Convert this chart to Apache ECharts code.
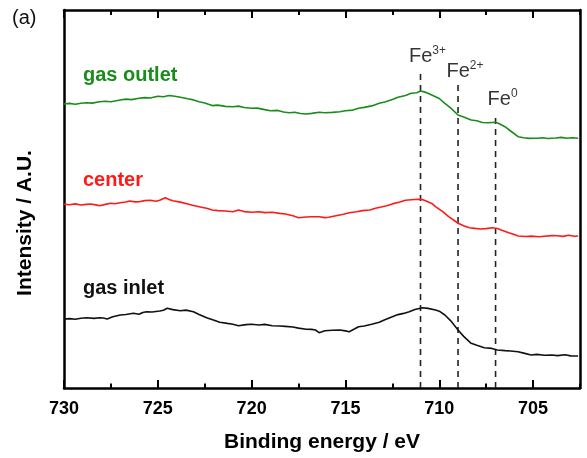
<!DOCTYPE html>
<html lang="en">
<head>
    <meta charset="UTF-8">
    <title>Fe 2p XPS</title>
    <script src="https://cdn.jsdelivr.net/npm/echarts@6/dist/echarts.min.js"></script>
    <style>
        html, body { margin: 0; padding: 0; background: #fff; }
        #chart { width: 587px; height: 458px; }
    </style>
</head>
<body>
    <div id="chart"></div>
    <script type="text/javascript">
        // binding energy (eV) and intensity (a.u., offset per curve)
        var outletEnergy = [730.0,729.7,729.4,729.1,728.8,728.5,728.1,727.8,727.5,727.0,726.7,726.4,726.0,725.7,725.4,725.0,724.7,724.4,724.1,723.8,723.4,723.1,722.8,722.5,722.1,721.8,721.4,721.0,720.7,720.4,720.0,719.7,719.3,719.0,718.6,718.3,718.0,717.7,717.4,717.1,716.8,716.4,716.1,715.7,715.3,715.0,714.6,714.3,714.0,713.6,713.2,712.9,712.5,712.2,711.8,711.5,711.2,711.0,710.7,710.4,710.0,709.7,709.4,709.0,708.7,708.3,708.0,707.7,707.4,707.0,706.8,706.5,706.2,705.8,705.5,705.2,704.8,704.5,704.2,703.8,703.5,703.2,702.9,702.6];
        var outletIntensity = [284.0,284.6,283.8,284.7,285.3,284.9,286.2,286.8,286.3,288.0,288.9,288.4,289.7,290.4,290.0,291.8,291.2,292.5,291.7,290.7,289.2,288.1,286.3,285.0,282.4,282.9,281.6,281.3,281.9,280.5,279.7,279.9,278.4,277.3,277.6,276.0,275.3,275.8,274.5,274.0,274.6,275.7,275.2,275.6,276.3,277.2,277.9,279.7,280.6,282.1,284.7,286.0,288.4,290.7,292.5,294.7,295.3,297.0,295.6,293.0,289.5,284.7,280.2,273.0,270.9,268.0,267.2,265.5,265.2,265.7,264.3,261.3,257.0,251.3,250.2,249.6,249.7,250.3,249.5,250.0,250.6,249.8,250.2,249.7];

        var centerEnergy = [730.0,729.7,729.4,729.1,728.8,728.6,728.3,728.1,727.8,727.5,727.3,727.0,726.7,726.5,726.2,726.0,725.7,725.4,725.1,724.9,724.6,724.4,724.2,723.8,723.4,723.1,722.8,722.4,722.1,721.8,721.4,721.0,720.7,720.4,720.0,719.6,719.3,718.9,718.5,718.2,717.8,717.5,717.1,716.8,716.4,716.1,715.9,715.5,715.1,714.8,714.4,714.1,713.7,713.4,713.1,712.8,712.5,712.1,711.8,711.5,711.1,710.9,710.7,710.4,710.2,709.8,709.5,709.2,709.0,708.7,708.4,708.1,707.8,707.5,707.2,706.9,706.7,706.3,706.0,705.8,705.4,705.1,704.7,704.4,704.0,703.7,703.4,703.1,702.8,702.6];
        var centerIntensity = [183.7,183.2,184.1,183.0,183.6,184.0,183.1,182.3,183.6,184.7,184.2,185.3,186.0,187.0,186.1,186.3,187.4,187.7,186.8,187.7,190.3,188.6,187.3,185.9,184.0,182.5,181.3,179.7,178.0,177.4,177.0,176.3,178.0,176.4,175.7,176.3,175.4,175.7,174.6,174.0,172.3,170.3,171.0,171.3,171.3,170.4,170.7,172.3,173.8,175.3,176.2,177.4,178.0,179.8,181.0,182.3,184.1,186.0,187.7,188.2,188.7,188.4,187.0,184.6,181.3,176.2,171.3,167.5,164.7,162.3,160.3,159.6,159.0,159.4,160.3,159.5,158.0,155.2,153.4,152.0,151.5,151.9,151.3,151.8,152.4,152.3,151.6,152.7,151.8,152.0];

        var inletEnergy = [730.0,729.7,729.4,729.1,728.8,728.4,728.1,727.9,727.7,727.4,727.0,726.7,726.3,726.0,725.8,725.6,725.3,724.9,724.7,724.5,724.2,723.8,723.5,723.1,722.8,722.4,722.0,721.7,721.3,721.0,720.7,720.3,720.0,719.6,719.3,718.9,718.5,718.2,717.8,717.5,717.1,716.8,716.6,716.4,716.1,715.7,715.3,715.0,714.8,714.5,714.3,714.0,713.6,713.2,712.9,712.5,712.2,711.9,711.6,711.3,710.9,710.6,710.2,710.0,709.7,709.4,709.0,708.7,708.3,708.0,707.6,707.2,706.9,706.5,706.2,705.8,705.5,705.1,704.8,704.4,704.0,703.7,703.3,703.0,702.6];
        var inletIntensity = [69.0,69.4,68.8,69.7,70.2,69.6,70.3,70.0,69.0,71.2,73.0,73.5,74.7,73.7,75.5,76.3,76.0,77.0,77.8,79.7,78.4,77.3,77.9,76.3,73.5,70.3,67.8,65.7,64.6,63.8,62.3,63.4,63.7,63.0,63.6,62.3,62.0,61.6,61.0,59.9,58.7,58.6,58.0,55.3,57.2,57.8,58.0,57.1,56.3,59.2,61.3,62.0,63.8,65.7,68.2,71.3,73.4,74.6,76.3,78.5,80.3,79.6,78.0,76.8,73.0,67.4,58.0,51.6,44.7,42.8,40.3,39.6,38.0,37.4,37.0,36.3,34.9,33.0,33.6,32.8,33.0,32.4,33.2,32.1,32.0];

        // reference lines for the iron oxidation states
        var peakEnergy = [711, 709, 707];
        var peakTop = [318, 303, 275];
        var peakCharge = ['3+', '2+', '0'];

        var xMin = 702.5, xMax = 730;      // visible energy window
        var majorMin = 705, majorStep = 5;  // labelled ticks
        var minorStep = 2.5;

        var font = '"Liberation Sans", Arial, Helvetica, sans-serif';
        var plotLeft = 64, plotRight = 580, plotTop = 10, plotBottom = 388;
        var pxPerEv = (plotRight - plotLeft) / (xMax - xMin);
        var majorWidth = pxPerEv * (xMax - majorMin);

        function pairs(xs, ys) {
            var out = [];
            for (var i = 0; i < xs.length; i++) out.push([xs[i], ys[i]]);
            return out;
        }

        // frame axes (grid 0) carry the border and the data
        function frameAxis(pos) {
            return {
                type: 'value', gridIndex: 0, position: pos, min: xMin, max: xMax, inverse: true,
                axisLine: { show: true, onZero: false, lineStyle: { color: '#000', width: 2.5 } },
                axisTick: { show: false }, axisLabel: { show: false }, splitLine: { show: false }
            };
        }
        // tick strips: a thin grid whose split lines are the inward tick marks
        function tickStrip(g, min, step) {
            return {
                type: 'value', gridIndex: g, min: min, max: xMax, interval: step, inverse: true,
                axisLine: { show: false }, axisTick: { show: false }, axisLabel: { show: false },
                splitLine: { show: true, lineStyle: { color: '#000', width: 2 } }
            };
        }

        var bottomAxis = frameAxis('bottom');
        bottomAxis.name = 'Binding energy / eV';
        bottomAxis.nameLocation = 'middle';
        bottomAxis.nameGap = 44;
        bottomAxis.nameTextStyle = { color: '#000', fontSize: 21, fontWeight: 'bold', fontFamily: font };

        var labelAxis = {
            type: 'value', gridIndex: 1, position: 'bottom', min: majorMin, max: xMax, interval: majorStep, inverse: true,
            axisLine: { show: false, onZero: false }, axisTick: { show: false }, splitLine: { show: false },
            axisLabel: { show: true, margin: 12, color: '#000', fontSize: 18, fontWeight: 'bold', fontFamily: font }
        };

        var series = [
            { name: 'gas outlet', data: pairs(outletEnergy, outletIntensity), color: '#1a8c1a' },
            { name: 'center', data: pairs(centerEnergy, centerIntensity), color: '#ff1a1a' },
            { name: 'gas inlet', data: pairs(inletEnergy, inletIntensity), color: '#111' }
        ].map(function (s) {
            return {
                type: 'line', name: s.name, data: s.data, showSymbol: false, symbol: 'none',
                lineStyle: { color: s.color, width: 1.6 }, z: 3
            };
        });

        peakEnergy.forEach(function (e, i) {
            series.push({
                type: 'line', data: [[e, 0], [e, peakTop[i]]], symbol: 'none',
                lineStyle: { color: '#222', width: 1.6, type: [6, 5] }, z: 2
            });
        });

        series.push({
            type: 'scatter', symbolSize: 0, itemStyle: { color: '#000' },
            data: peakEnergy.map(function (e, i) { return [e, peakTop[i]]; }),
            label: {
                show: true, position: 'top', distance: 3, offset: [7, 0], color: '#000',
                formatter: function (p) { return '{b|Fe}{s|' + peakCharge[p.dataIndex] + '}'; },
                rich: {
                    b: { fontSize: 20, fontFamily: font, color: '#000', lineHeight: 22 },
                    s: { fontSize: 12, fontFamily: font, color: '#000', verticalAlign: 'top', lineHeight: 12, padding: [0, 0, 10, 0] }
                }
            },
            emphasis: { disabled: true },
            z: 4
        });

        function box(left, width, top, height) {
            return { left: left, width: width, top: top, height: height, outerBoundsMode: 'none' };
        }
        function hiddenY(g) { return { type: 'value', gridIndex: g, min: 0, max: 1, show: false }; }

        var fullWidth = plotRight - plotLeft, fullHeight = plotBottom - plotTop;

        var myChart = echarts.init(document.getElementById('chart'));
        var option = {
            backgroundColor: '#fff',
            animation: false,
            grid: [
                box(plotLeft, fullWidth, plotTop, fullHeight),        // data + frame
                box(plotLeft, majorWidth, plotTop, fullHeight),       // tick labels
                box(plotLeft, majorWidth, plotBottom - 8, 8),         // bottom major ticks
                box(plotLeft, fullWidth, plotBottom - 4.5, 4.5),      // bottom minor ticks
                box(plotLeft, majorWidth, plotTop, 8),                // top major ticks
                box(plotLeft, fullWidth, plotTop, 5)                  // top minor ticks
            ],
            xAxis: [
                bottomAxis,
                frameAxis('top'),
                labelAxis,
                tickStrip(2, majorMin, majorStep),
                tickStrip(3, xMin, minorStep),
                tickStrip(4, majorMin, majorStep),
                tickStrip(5, xMin, minorStep)
            ],
            yAxis: [
                { type: 'value', gridIndex: 0, min: 0, max: 378, position: 'left',
                  axisLine: { show: true, lineStyle: { color: '#000', width: 2.5 } },
                  axisTick: { show: false }, axisLabel: { show: false }, splitLine: { show: false } },
                { type: 'value', gridIndex: 0, min: 0, max: 378, position: 'right',
                  axisLine: { show: true, lineStyle: { color: '#000', width: 2.5 } },
                  axisTick: { show: false }, axisLabel: { show: false }, splitLine: { show: false } },
                hiddenY(1), hiddenY(2), hiddenY(3), hiddenY(4), hiddenY(5)
            ],
            graphic: [
                { type: 'text', left: 12, top: 8, style: { text: '(a)', fontSize: 20, fontFamily: font, fill: '#111' } },
                { type: 'text', x: 25, y: 223, rotation: Math.PI / 2,
                  style: { text: 'Intensity / A.U.', fontSize: 21, fontWeight: 'bold', fontFamily: font,
                           fill: '#000', align: 'center', verticalAlign: 'middle' } },
                { type: 'text', x: 83, y: 75, style: { text: 'gas outlet', fontSize: 20, fontWeight: 'bold', fontFamily: font, fill: '#1a8c1a', verticalAlign: 'middle' } },
                { type: 'text', x: 83, y: 180, style: { text: 'center', fontSize: 20, fontWeight: 'bold', fontFamily: font, fill: '#ff1a1a', verticalAlign: 'middle' } },
                { type: 'text', x: 83, y: 288, style: { text: 'gas inlet', fontSize: 20, fontWeight: 'bold', fontFamily: font, fill: '#111', verticalAlign: 'middle' } }
            ],
            series: series
        };
        myChart.setOption(option);
    </script>
</body>
</html>
